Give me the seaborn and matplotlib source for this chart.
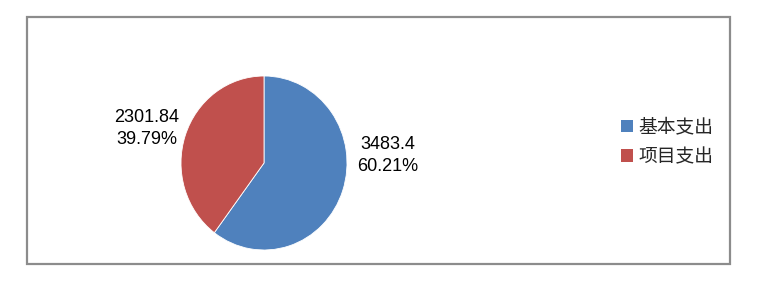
import matplotlib
matplotlib.use("Agg")
import matplotlib.pyplot as plt
import matplotlib.patches as mpatches
import seaborn as sns

categories = ["基本支出", "项目支出"]
values = [3483.4, 2301.84]
pct_labels = ["60.21%", "39.79%"]
colors = ["#4F81BD", "#C0504D"]

sns.set_theme(style="white")
plt.rcParams["font.family"] = ["Liberation Sans", "Noto Sans CJK SC", "DejaVu Sans"]

W, H = 776, 283
fig = plt.figure(figsize=(W / 100, H / 100), dpi=100)
fig.patch.set_facecolor("white")

# chart frame
fig.patches.append(mpatches.Rectangle((27 / W, 1 - 264 / H), (730 - 27) / W, (264 - 17) / H,
                                      transform=fig.transFigure, fill=False,
                                      edgecolor="#8c8c8c", linewidth=1.6))

# pie axes (slightly elliptical as in reference)
ax = fig.add_axes([181 / W, 1 - 250 / H, 166 / W, 174 / H])
wedges, _ = ax.pie(values, colors=colors, startangle=90, counterclock=False,
                   wedgeprops=dict(edgecolor="white", linewidth=0.6))
ax.set_aspect("auto")
ax.set_xlim(-1, 1)
ax.set_ylim(-1, 1)
ax.axis("off")

label_pos = [(1.49, 0.09), (-1.41, 0.40)]
for v, p, (x, y) in zip(values, pct_labels, label_pos):
    ax.text(x, y, f"{v:g}\n{p}", ha="center", va="center", fontsize=13,
            color="black", linespacing=1.4, clip_on=False)

handles = [mpatches.Patch(facecolor=c, edgecolor="none") for c in colors]
fig.legend(handles, categories, loc="center left",
           bbox_to_anchor=(621 / W, 1 - 142 / H), frameon=False,
           prop={"family": ["Noto Sans CJK SC", "DejaVu Sans"], "size": 13.5},
           handlelength=0.65, handleheight=0.65, handletextpad=0.3,
           labelspacing=0.45, borderpad=0, borderaxespad=0)

fig.savefig("out.png", dpi=100, facecolor="white")
